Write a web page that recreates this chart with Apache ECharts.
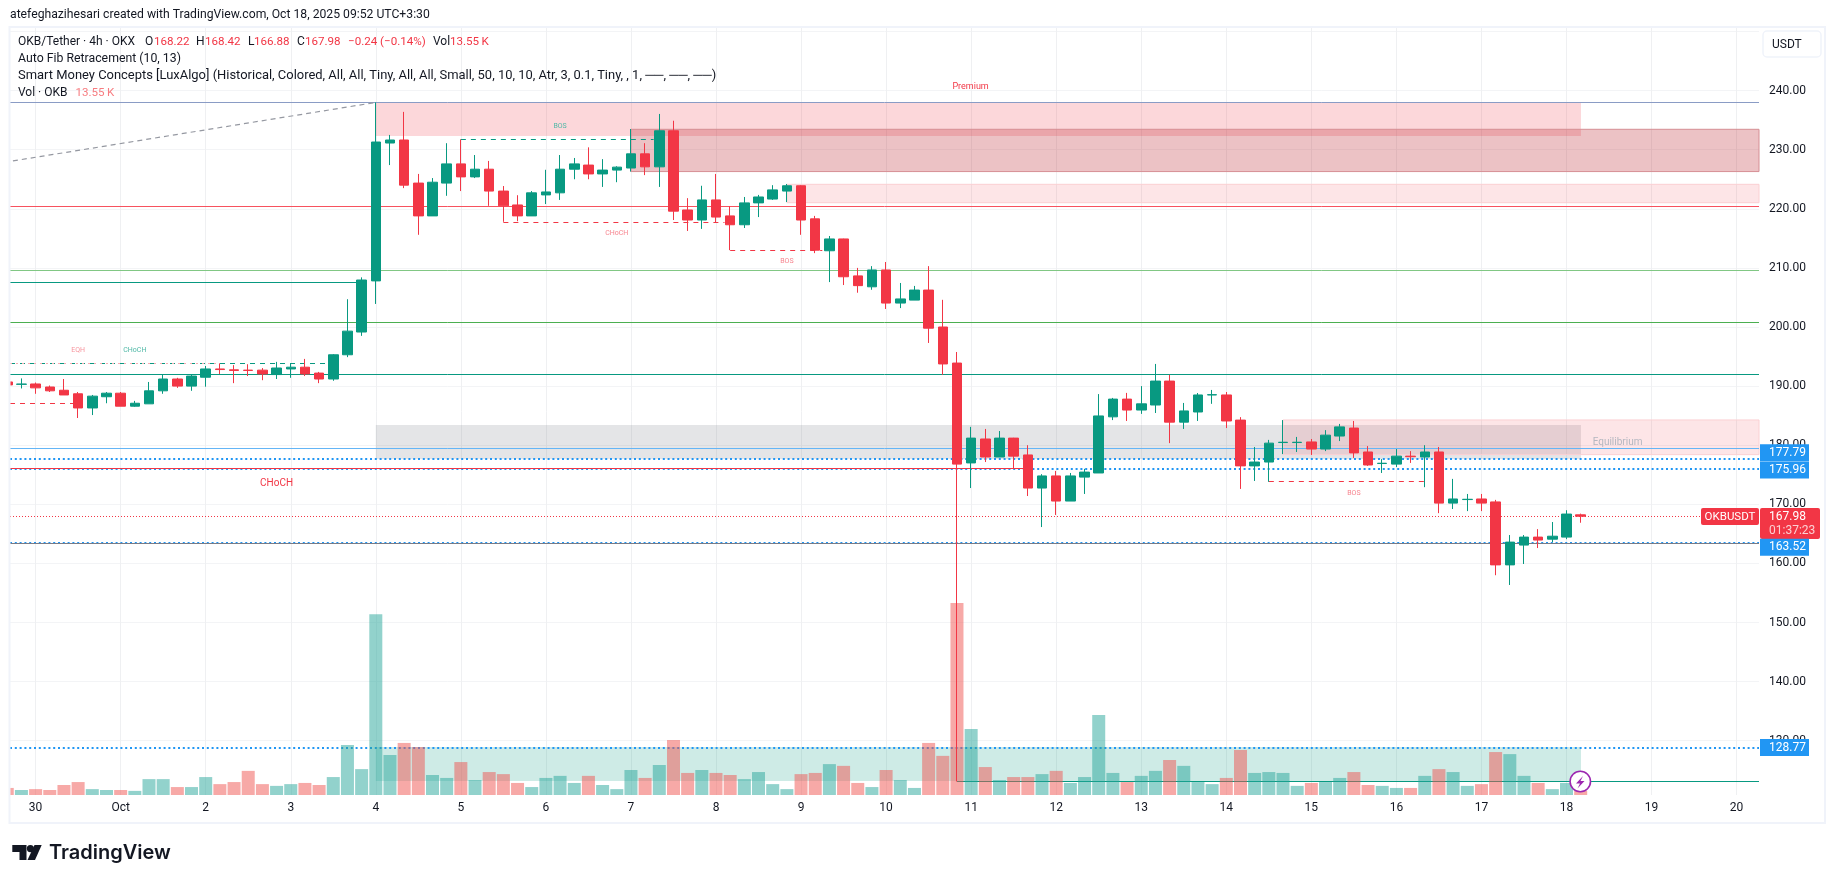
<!DOCTYPE html>
<html>
<head>
<meta charset="utf-8">
<title>OKB/Tether 4h</title>
<style>
    html, body { margin: 0; padding: 0; background: #fff; }
    #chart { width: 1835px; height: 883px; }
</style>
<script src="https://cdn.jsdelivr.net/npm/echarts@6/dist/echarts.min.js"></script>
</head>
<body>
<div id="chart"></div>
<script>
// candles: [open, close, low, high], one every 4h
var candles = [
    [190.7, 190.2, 190.0, 190.8], [190.3, 190.35, 189.6, 191.3], [190.36, 189.7, 188.7, 190.6], [189.85, 189.2, 189.0, 190.1],
    [189.3, 188.5, 188.5, 191.2], [188.7, 186.3, 184.6, 189.0], [186.3, 188.3, 185.1, 188.5], [188.2, 188.8, 187.1, 189.0],
    [188.8, 186.6, 186.6, 189.0], [186.6, 187.1, 186.5, 187.5], [187.0, 189.2, 187.0, 190.7], [189.2, 191.2, 188.7, 192.0],
    [191.2, 190.0, 189.7, 191.4], [190.0, 191.7, 189.2, 191.9], [191.5, 192.9, 189.9, 193.4], [192.9, 192.8, 192.05, 193.85],
    [192.75, 192.65, 190.5, 193.55], [192.7, 192.65, 191.7, 193.7], [192.7, 192.05, 191.0, 193.05], [191.95, 193.06, 191.2, 194.1],
    [192.9, 193.2, 191.4, 193.9], [193.2, 192.05, 191.7, 194.6], [192.2, 191.2, 190.5, 192.4], [191.2, 195.3, 190.9, 195.4],
    [195.3, 199.3, 194.9, 204.7], [199.15, 207.95, 198.5, 208.4], [207.8, 231.3, 203.9, 238.0], [231.13, 231.64, 227.4, 232.5],
    [231.64, 224.0, 223.5, 236.4], [224.35, 218.8, 215.6, 225.9], [218.8, 224.5, 218.8, 225.2], [224.35, 227.6, 222.2, 231.1],
    [227.6, 225.4, 223.0, 231.75], [225.4, 226.7, 225.2, 229.1], [226.7, 223.0, 220.5, 228.1], [223.0, 220.5, 217.8, 223.85],
    [220.65, 218.8, 217.9, 222.3], [218.8, 222.7, 218.8, 223.0], [222.35, 222.85, 220.8, 226.6], [222.7, 226.7, 221.5, 229.1],
    [226.7, 227.6, 225.0, 228.6], [227.4, 225.9, 225.0, 230.4], [225.9, 226.55, 223.7, 228.4], [226.55, 227.05, 224.5, 227.2],
    [226.9, 229.3, 226.3, 233.5], [229.3, 227.1, 225.7, 231.1], [227.1, 233.2, 223.7, 236.05], [233.2, 219.6, 218.1, 234.9],
    [219.8, 218.1, 216.25, 221.8], [218.1, 221.5, 216.6, 223.9], [221.5, 218.6, 217.6, 225.9], [218.8, 217.3, 213.0, 220.4],
    [217.3, 221.0, 216.75, 222.0], [221.0, 222.0, 218.6, 222.35], [221.65, 223.2, 221.5, 224.0], [223.0, 223.9, 221.15, 224.2],
    [223.9, 218.1, 215.6, 224.0], [218.3, 213.0, 212.5, 218.8], [212.9, 214.9, 207.6, 215.4], [214.9, 208.5, 207.1, 214.95],
    [208.65, 207.0, 205.8, 210.0], [206.8, 209.65, 206.3, 210.3], [209.65, 204.05, 203.05, 211.0], [204.05, 204.75, 203.2, 207.45],
    [204.55, 206.25, 204.55, 206.95], [206.25, 199.8, 197.3, 210.3], [200.0, 193.75, 191.9, 204.6], [193.9, 176.8, 123.1, 195.77],
    [177.0, 181.2, 172.75, 183.1], [181.05, 178.0, 177.15, 182.75], [178.0, 181.2, 178.0, 182.4], [181.2, 178.15, 176.0, 181.25],
    [178.35, 172.75, 171.4, 180.0], [172.75, 174.8, 166.15, 175.1], [174.8, 170.55, 168.2, 175.65], [170.55, 174.8, 170.55, 175.3],
    [174.6, 175.45, 171.75, 176.0], [175.3, 184.95, 175.3, 188.65], [184.8, 187.8, 184.25, 188.0], [187.8, 185.95, 184.1, 188.85],
    [185.95, 187.0, 185.3, 190.0], [186.8, 190.85, 185.45, 193.75], [190.85, 183.9, 180.35, 191.9], [183.9, 185.8, 182.75, 187.15],
    [185.62, 188.5, 184.1, 188.83], [188.5, 188.55, 187.0, 189.35], [188.5, 184.1, 182.9, 189.0], [184.25, 176.5, 172.6, 184.75],
    [176.5, 177.15, 173.95, 179.7], [177.15, 180.35, 173.8, 180.9], [180.45, 180.5, 178.5, 184.25], [180.45, 180.5, 178.85, 181.4],
    [180.55, 179.35, 178.35, 181.05], [179.35, 181.7, 179.0, 182.55], [181.55, 183.1, 180.7, 183.6], [182.9, 178.7, 177.85, 184.1],
    [178.85, 176.65, 176.5, 179.85], [176.9, 176.95, 175.3, 177.65], [176.8, 178.15, 176.3, 179.35], [178.15, 178.05, 177.0, 179.0],
    [178.0, 178.85, 172.9, 180.0], [178.85, 170.2, 168.5, 179.7], [170.2, 170.9, 169.2, 174.3], [170.8, 170.85, 168.85, 171.75],
    [170.9, 170.2, 168.85, 171.75], [170.4, 159.75, 158.0, 170.75], [159.75, 163.6, 156.35, 164.8], [163.1, 164.45, 159.9, 164.8],
    [164.45, 163.95, 162.6, 165.8], [164.1, 164.6, 163.6, 167.0], [164.45, 168.35, 164.1, 169.0], [168.22, 167.98, 166.88, 168.42]
];
// volume in K
var volumes = [
    24, 17, 20, 17, 34, 44, 20, 17, 17, 14, 54, 54, 27, 27, 61, 37, 44, 82, 37, 31, 37, 41, 34, 61, 170, 88, 615, 136,
    177, 163, 68, 58, 112, 51, 78, 71, 41, 27, 58, 65, 41, 65, 34, 20, 85, 58, 102, 187, 75, 85, 75, 68, 54, 78, 37, 20,
    71, 75, 105, 99, 41, 27, 85, 51, 24, 177, 133, 653, 224, 95, 51, 61, 61, 71, 82, 41, 61, 272, 75, 44, 65, 82, 119, 99,
    44, 37, 58, 153, 75, 78, 75, 31, 41, 44, 58, 78, 34, 31, 24, 24, 65, 88, 78, 31, 37, 146, 139, 65, 41, 20, 41, 13.55
];
// day labels on the time axis and the candle index they sit on
var dayTicks = [2, 8, 14, 20, 26, 32, 38, 44, 50, 56, 62, 68, 74, 80, 86, 92, 98, 104, 110, 116, 122];
var dayLabels = ['30', 'Oct', '2', '3', '4', '5', '6', '7', '8', '9', '10', '11', '12', '13', '14', '15', '16', '17', '18', '19', '20'];

// levels drawn by the indicators
var fibHigh = 238;
var pivotLevels = [220.43, 209.6, 200.73];
var swingLevel = 191.98;
var eqLevel = 179.47;
var priceTags = [177.79, 175.96, 163.52, 128.77];
var lastPrice = 167.98;
var supportLevel = 123.1;

var UP = '#089981', DOWN = '#F23645', BLUE = '#2196F3';
var FONT = 'Roboto, sans-serif';
var xMin = 0.194, xMax = 123.58;   // view range in candle index
var zoneEnd = 111.02;

var chart = echarts.init(document.getElementById('chart'), null, { renderer: 'canvas' });

// a horizontal or sloped indicator line
function line(x1, y1, x2, y2, color, width, type) {
    var style = { color: color, width: width, type: type || 'solid', opacity: 1 };
    return [{ coord: [x1, y1], lineStyle: style }, { coord: [x2, y2], lineStyle: style }];
}
function zone(x1, top, x2, bottom, fill, border) {
    return [{
        coord: [x1, top],
        itemStyle: { color: fill, borderColor: border || 'transparent', borderWidth: border ? 1 : 0 }
    }, { coord: [x2, bottom] }];
}
function note(x, y, text, color, size) {
    return {
        coord: [x, y], symbol: 'circle', symbolSize: 0,
        label: { show: true, position: 'inside', formatter: text, color: color, fontSize: size, fontFamily: FONT }
    };
}

var DOTS = [2, 2.8];
var lines = [
    line(xMin, fibHigh, xMax, fibHigh, '#8a9cc5', 1),
    line(xMin, pivotLevels[0], xMax, pivotLevels[0], '#F7525F', 1),
    line(xMin, pivotLevels[1], xMax, pivotLevels[1], '#81C784', 1),
    line(xMin, pivotLevels[2], xMax, pivotLevels[2], '#4CAF50', 1),
    line(xMin, 207.56, 25, 207.56, UP, 1),
    line(xMin, swingLevel, xMax, swingLevel, UP, 1),
    line(xMin, eqLevel, xMax, eqLevel, '#64B5F6', 1),
    line(xMin, priceTags[0], xMax, priceTags[0], BLUE, 2, DOTS),
    line(xMin, priceTags[1], xMax, priceTags[1], BLUE, 2, DOTS),
    line(xMin, 176.1, 72, 176.1, DOWN, 1),
    line(xMin, lastPrice, xMax, lastPrice, DOWN, 1, [1, 2]),
    line(xMin, 163.45, xMax, 163.45, '#787B86', 1),
    line(xMin, priceTags[2], xMax, priceTags[2], BLUE, 1.2, DOTS),
    line(xMin, priceTags[3], xMax, priceTags[3], BLUE, 2, DOTS),
    line(67, supportLevel, xMax, supportLevel, UP, 1),
    // auto fib trend line
    line(0.4, 228.1, 26, fibHigh, '#9598A1', 1.2, [5, 4]),
    // market structure
    line(xMin, 187.1, 5, 187.1, DOWN, 1, [5, 5]),
    line(xMin, 193.85, 23, 193.85, UP, 1, [5, 5]),
    line(xMin, 193.85, 15, 193.85, '#f7a9b0', 1, [2, 4]),
    line(32, 231.75, 45.6, 231.75, UP, 1, [5, 5]),
    line(35, 217.7, 50.6, 217.7, DOWN, 1, [5, 5]),
    line(51, 213, 57.5, 213, DOWN, 1, [5, 5]),
    line(89, 173.9, 100, 173.9, DOWN, 1, [5, 5])
];

var zones = [
    zone(26, fibHigh, zoneEnd, 232.3, 'rgba(242,54,69,0.2)'),
    zone(44, 233.45, xMax, 226.3, 'rgba(188,35,45,0.28)', '#d68f94'),
    zone(55, 224.14, xMax, 221.03, 'rgba(242,54,69,0.13)', '#fbd0d3'),
    zone(26, 183.4, zoneEnd, 177.67, 'rgba(120,123,134,0.2)'),
    zone(90, 184.27, xMax, 178.4, 'rgba(242,54,69,0.13)', '#fbd0d3'),
    zone(26, 128.93, zoneEnd, 123.2, 'rgba(8,153,129,0.2)')
];

var notes = [
    note(67.96, 240.66, 'Premium', '#F23645', 9),
    note(113.6, 180.5, 'Equilibrium', '#b4b7c0', 10),
    note(39, 233.9, 'BOS', '#4fb8a6', 7),
    note(43, 215.8, 'CHoCH', '#f7858f', 7),
    note(55, 211.1, 'BOS', '#f7858f', 7),
    note(95, 171.86, 'BOS', '#f7858f', 7),
    note(5, 196.1, 'EQH', '#f7959e', 7),
    note(9, 196.1, 'CHoCH', '#4fb8a6', 7),
    note(19, 173.5, 'CHoCH', '#F23645', 10)
];

var option = {
    animation: false,
    backgroundColor: '#fff',
    textStyle: { fontFamily: FONT },
    grid: [
        { left: 10, right: 76, top: 31.5, bottom: 83.2 },
        { left: 10, right: 76, top: 28, bottom: 88 }
    ],
    xAxis: [
        { type: 'value', gridIndex: 0, min: xMin, max: xMax, show: false, splitLine: { show: false } },
        {
            type: 'value', gridIndex: 1, min: xMin, max: xMax,
            axisLine: { show: false },
            axisTick: { show: false, customValues: dayTicks },
            axisLabel: {
                customValues: dayTicks,
                margin: 7,
                color: '#131722',
                fontSize: 12,
                fontFamily: FONT,
                formatter: function (value) {
                    return dayLabels[dayTicks.indexOf(value)];
                }
            },
            splitLine: { show: true, lineStyle: { color: '#eff0f2', width: 1 } }
        }
    ],
    yAxis: [
        {
            type: 'value', gridIndex: 0, position: 'right',
            min: 120, max: 250, interval: 10,
            axisLine: { show: false },
            axisTick: { show: false },
            axisLabel: {
                margin: 10,
                color: '#131722',
                fontSize: 12,
                fontFamily: FONT,
                showMinLabel: false,
                showMaxLabel: false,
                formatter: function (value) {
                    return value.toFixed(2);
                }
            },
            splitLine: { show: true, showMinLine: false, lineStyle: { color: '#f3f4f6', width: 1 } }
        },
        // volume keeps its own scale, at the bottom of the pane
        { type: 'value', gridIndex: 1, min: 0, max: 2608, show: false, splitLine: { show: false } }
    ],
    series: [
        {
            name: 'Vol',
            type: 'bar',
            xAxisIndex: 1,
            yAxisIndex: 1,
            barWidth: 13,
            clip: true,
            data: volumes.map(function (v, i) {
                return {
                    value: [i, v],
                    itemStyle: { color: candles[i][1] >= candles[i][0] ? 'rgba(38,166,154,0.5)' : 'rgba(239,83,80,0.5)' }
                };
            })
        },
        {
            name: 'OKBUSDT',
            type: 'candlestick',
            xAxisIndex: 0,
            yAxisIndex: 0,
            barWidth: 10,
            clip: true,
            itemStyle: { color: UP, color0: DOWN, borderColor: UP, borderColor0: DOWN, borderWidth: 1 },
            data: candles.map(function (c, i) {
                return [i, c[0], c[1], c[2], c[3]];
            }),
            markArea: { silent: true, z: 1, data: zones },
            markLine: { silent: true, z: 1, symbol: 'none', label: { show: false }, data: lines },
            markPoint: { silent: true, data: notes }
        }
    ]
};
chart.setOption(option);

// everything outside the plot: frame, header, legend, price tags, logo
function text(x, y, str, color, size, extra) {
    return {
        type: 'text', x: x, y: y, z: 50,
        style: Object.assign({
            text: str, fill: color, fontSize: size, fontFamily: FONT,
            textAlign: 'left', textVerticalAlign: 'middle'
        }, extra || {})
    };
}
function box(x, y, w, h, fill) {
    return { type: 'rect', z: 49, shape: { x: x, y: y, width: w, height: h }, style: { fill: fill } };
}
function yOf(price) {
    return chart.convertToPixel({ yAxisIndex: 0 }, price);
}
function blueTag(price, textY) {
    var top = textY - 8.5;
    return [
        box(1760, top, 49, 17, BLUE),
        text(1769, textY, price.toFixed(2), '#fff', 12)
    ];
}

var INK = '#131722', NUM = DOWN;
var graphics = [
    // the first candle is cut by the pane edge
    box(0, 28, 9, 795, '#fff'),
    { type: 'rect', z: 50, silent: true, shape: { x: 9.5, y: 27, width: 1815.5, height: 796 }, style: { fill: 'none', stroke: '#f0f3fa', lineWidth: 2 } },
    text(10, 15, 'atefeghazihesari created with TradingView.com, Oct 18, 2025 09:52 UTC+3:30', INK, 12.2),
    text(18, 42, 'OKB/Tether · 4h · OKX', INK, 12),
    text(145, 42, 'O', INK, 12), text(154, 42, '168.22', NUM, 11.6),
    text(196, 42, 'H', INK, 12), text(205, 42, '168.42', NUM, 11.6),
    text(248, 42, 'L', INK, 12), text(254, 42, '166.88', NUM, 11.6),
    text(297, 42, 'C', INK, 12), text(305, 42, '167.98', NUM, 11.6),
    text(348, 42, '−0.24 (−0.14%)', NUM, 11.6),
    text(433, 42, 'Vol', INK, 12), text(450, 42, '13.55\u2009K', NUM, 11.6),
    text(18, 59, 'Auto Fib Retracement (10, 13)', INK, 12.3),
    text(18, 76, 'Smart Money Concepts [LuxAlgo] (Historical, Colored, All, All, Tiny, All, All, Small, 50, 10, 10, Atr, 3, 0.1, Tiny, , 1, ──, ──, ──)', INK, 12.95),
    text(18, 93, 'Vol · OKB', INK, 12), text(75.5, 93, '13.55\u2009K', '#f77c80', 11.6),
    // USDT button
    { type: 'rect', z: 49, shape: { x: 1763, y: 31, width: 58, height: 26, r: 4 }, style: { fill: '#fff', stroke: '#f0f3fa', lineWidth: 1.5 } },
    text(1772, 44.5, 'USDT', INK, 12),
    // symbol + last price tags
    { type: 'rect', z: 49, shape: { x: 1701, y: 508, width: 58, height: 17, r: 2 }, style: { fill: DOWN } },
    text(1730, 516.7, 'OKBUSDT', '#fff', 11.5, { textAlign: 'center' }),
    { type: 'rect', z: 49, shape: { x: 1760, y: 508, width: 60, height: 31, r: 2 }, style: { fill: DOWN } },
    text(1769, 516.7, lastPrice.toFixed(2), '#fff', 12),
    text(1769, 530.7, '01:37:23', '#fbd0d3', 12),
    // flash icon on the last bar
    { type: 'circle', z: 49, shape: { cx: 1580.3, cy: yOf(supportLevel), r: 10.2 }, style: { fill: '#fff', stroke: '#9C27B0', lineWidth: 1.6 } },
    { type: 'polygon', z: 50, shape: { points: [[1583, 776], [1576, 783.5], [1580, 783.5], [1577.5, 788.5], [1584.5, 781], [1580.5, 781]] }, style: { fill: '#9C27B0' } },
    // TradingView logo
    { type: 'polygon', z: 50, shape: { points: [[12.3, 845], [26.5, 845], [26.5, 860], [19.5, 860], [19.5, 852], [12.3, 852]] }, style: { fill: '#131722' } },
    { type: 'circle', z: 50, shape: { cx: 30.4, cy: 848.6, r: 3.6 }, style: { fill: '#131722' } },
    { type: 'polygon', z: 50, shape: { points: [[34.5, 845], [41.7, 845], [35, 860], [27.5, 860]] }, style: { fill: '#131722' } },
    text(49, 853, 'TradingView', '#131722', 20, { fontWeight: 600, fontFamily: 'Inter, sans-serif' })
];
graphics = graphics
    .concat(blueTag(priceTags[0], 452.7))
    .concat(blueTag(priceTags[1], 470))
    .concat(blueTag(priceTags[2], 547.2))
    .concat(blueTag(priceTags[3], 747.5));

chart.setOption({ graphic: { elements: graphics } });
</script>
</body>
</html>
